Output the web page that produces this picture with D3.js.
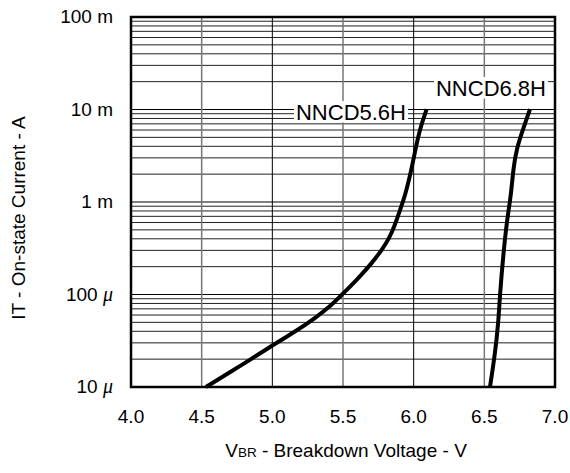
<!DOCTYPE html>
<html><head><meta charset="utf-8">
<script src="https://cdn.jsdelivr.net/npm/d3@7"></script>
<style>body{margin:0;background:#fff}svg{display:block;font-family:"Liberation Sans",Arial,sans-serif}</style>
</head><body><svg id="c" width="570" height="473"></svg>
<script>
const xTicks = [4.0, 4.5, 5.0, 5.5, 6.0, 6.5, 7.0];
const yTicks = [1e-5, 1e-4, 1e-3, 1e-2, 1e-1];
const yTickLabels = [["10 ", "μ"], ["100 ", "μ"], ["1 m", ""], ["10 m", ""], ["100 m", ""]];
const s56V = [4.53, 4.688, 4.83, 5.003, 5.16, 5.302, 5.42, 5.502, 5.608, 5.703, 5.774, 5.821, 5.868, 5.903, 5.94, 5.986, 6.009, 6.045, 6.092];
const s56I = [10e-6, 14.1e-6, 19.1e-6, 28.4e-6, 39.6e-6, 55.3e-6, 76.9e-6, 103e-6, 150e-6, 217e-6, 303e-6, 388e-6, 564e-6, 820e-6, 1.17e-3, 2.31e-3, 3.5e-3, 6.27e-3, 10.1e-3];
const s68V = [6.54, 6.576, 6.599, 6.611, 6.635, 6.66, 6.689, 6.705, 6.729, 6.776, 6.823];
const s68I = [10e-6, 23.1e-6, 48.9e-6, 103e-6, 279e-6, 631e-6, 1.19e-3, 2.31e-3, 3.81e-3, 6.27e-3, 10.1e-3];
const seriesNames = ["NNCD5.6H", "NNCD6.8H"];

const L = 131, R = 555, T = 17, B = 387;
const svg = d3.select("#c");
const x = d3.scaleLinear().domain([4, 7]).range([L, R]);
const y = d3.scaleLog().domain([1e-5, 1e-1]).range([B, T]);

// grid
const g = svg.append("g");
const minor = [];
for (let d = 0; d < yTicks.length - 1; d++) for (let k = 2; k <= 9; k++) minor.push(yTicks[d] * k);
g.selectAll(".hm").data(minor).join("line")
  .attr("x1", L).attr("x2", R).attr("y1", d => y(d)).attr("y2", d => y(d))
  .attr("stroke", "#222").attr("stroke-width", 1);
g.selectAll(".hM").data(yTicks).join("line")
  .attr("x1", L).attr("x2", R).attr("y1", d => y(d)).attr("y2", d => y(d))
  .attr("stroke", "#000").attr("stroke-width", 1.2);
g.selectAll(".v").data(xTicks).join("line")
  .attr("x1", d => x(d)).attr("x2", d => x(d)).attr("y1", T).attr("y2", B)
  .attr("stroke", (d, i) => i % 2 ? "#777" : "#000").attr("stroke-width", (d, i) => i % 2 ? 1.5 : 1);

// labels with white background
const labels = [
  {t: seriesNames[0], x: 406, y: 120},
  {t: seriesNames[1], x: 546, y: 96}
];
labels.forEach(l => {
  const tx = svg.append("text").attr("x", l.x).attr("y", l.y).attr("text-anchor", "end")
    .attr("font-size", 22).text(l.t);
  const bb = tx.node().getBBox();
  svg.insert("rect", "text").attr("x", bb.x - 2).attr("y", l.y - 19).attr("width", bb.width + 4).attr("height", 21.5).attr("fill", "#fff");
});

// curves
const line = d3.line().x(d => x(d[0])).y(d => y(d[1])).curve(d3.curveBasis);
[[s56V, s56I], [s68V, s68I]].forEach(([V, I]) => {
  svg.append("path").datum(V.map((v, i) => [v, I[i]])).attr("d", line)
    .attr("fill", "none").attr("stroke", "#000").attr("stroke-width", 4);
});

// frame
svg.append("rect").attr("x", L).attr("y", T).attr("width", R - L).attr("height", B - T)
  .attr("fill", "none").attr("stroke", "#000").attr("stroke-width", 2.5);

// y tick labels
yTicks.forEach((v, i) => {
  const t = svg.append("text").attr("x", 113).attr("y", y(v)).attr("dy", "0.33em")
    .attr("text-anchor", "end").attr("font-size", 19);
  t.append("tspan").text(yTickLabels[i][0]);
  if (yTickLabels[i][1]) t.append("tspan").attr("font-style", "italic").attr("font-family", "Liberation Serif").attr("font-size", 20).text(yTickLabels[i][1]);
});
// x tick labels
svg.selectAll(".xt").data(xTicks).join("text")
  .attr("x", d => x(d)).attr("y", 423).attr("text-anchor", "middle").attr("font-size", 19)
  .text(d => d.toFixed(1));

// axis titles
const xt = svg.append("text").attr("x", 346).attr("y", 457).attr("text-anchor", "middle").attr("font-size", 19);
xt.append("tspan").text("V");
xt.append("tspan").attr("font-size", 13.5).text("BR");
xt.append("tspan").text(" - Breakdown Voltage - V");
svg.append("text").attr("transform", "translate(25,218) rotate(-90)").attr("text-anchor", "middle")
  .attr("font-size", 19).text("IT - On-state Current - A");
</script></body></html>
